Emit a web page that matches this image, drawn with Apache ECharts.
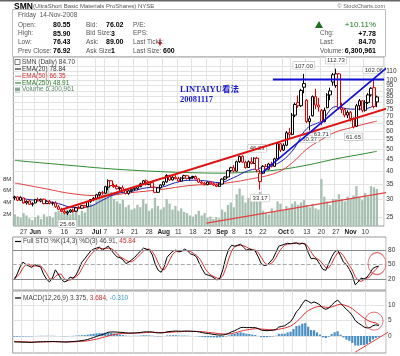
<!DOCTYPE html>
<html><head><meta charset="utf-8">
<script src="https://cdn.jsdelivr.net/npm/echarts@6/dist/echarts.min.js"></script>
<style>html,body{margin:0;padding:0;background:#fff}#c{width:400px;height:356px}</style>
</head><body><div id="c"></div>
<script>
// ---------- DATA ----------
const dates = ['05-21','05-22','05-23','05-27','05-28','05-29','05-30',
'06-02','06-03','06-04','06-05','06-06','06-09','06-10','06-11','06-12','06-13',
'06-16','06-17','06-18','06-19','06-20','06-23','06-24','06-25','06-26','06-27',
'06-30','07-01','07-02','07-03','07-07','07-08','07-09','07-10','07-11',
'07-14','07-15','07-16','07-17','07-18','07-21','07-22','07-23','07-24','07-25',
'07-28','07-29','07-30','07-31','08-01','08-04','08-05','08-06','08-07','08-08',
'08-11','08-12','08-13','08-14','08-15','08-18','08-19','08-20','08-21','08-22',
'08-25','08-26','08-27','08-28','08-29','09-02','09-03','09-04','09-05',
'09-08','09-09','09-10','09-11','09-12','09-15','09-16','09-17','09-18','09-19',
'09-22','09-23','09-24','09-25','09-26','09-29','09-30','10-01','10-02','10-03',
'10-06','10-07','10-08','10-09','10-10','10-13','10-14','10-15','10-16','10-17',
'10-20','10-21','10-22','10-23','10-24','10-27','10-28','10-29','10-30','10-31',
'11-03','11-04','11-05','11-06','11-07','11-10','11-11','11-12','11-13','11-14',
'11-17','11-18'];
const tickDates = ['05-27','06-02','06-09','06-16','06-23','07-01','07-07','07-14','07-21','07-28','08-04','08-11','08-18','08-25','09-02','09-08','09-15','09-22','10-01','10-06','10-13','10-20','10-27','11-03','11-10'];
const tickTexts = ['27','Jun','9','16','23','Jul','7','14','21','28','Aug','11','18','25','Sep','8','15','22','Oct','6','13','20','27','Nov','10'];

const opens = [30.5,30.8,29.8,30.5,29.0,29.6,28.6, 29.0,30.0,29.6,30.1,28.8, 29.5,28.9,29.0,27.9,27.2, 26.6,26.2,26.5,27.0,26.7, 27.6,27.5,28.2,27.9,29.4, 30.0,30.4,31.5,32.2, 32.0,34.0,36.3,34.6,34.2, 33.5,33.8,32.9,31.9,32.8, 33.3,33.6,34.2,35.2,36.3, 35.0,35.6,34.0,32.3,33.8, 34.8,35.9,38.3,36.6,37.6, 37.1,36.2,37.3,38.2,37.2, 37.5,37.9,37.0,35.8,35.4, 34.9,35.8,35.2,34.8,34.3, 35.1,36.9,37.7,40.2, 41.4,40.0,44.0,46.5,43.8, 41.5,44.0,43.2,45.6,36.0, 39.2,42.0,40.8,43.0,42.0, 45.3,52.8,49.5,52.0,59.0, 58.0,70.5,80.0,77.5,97.0, 82.0,66.0,70.0,85.0,78.0, 74.0,66.0,76.0,86.5,106.0, 95.0,107.0,76.0,74.5,70.5, 72.5,68.0,63.0,77.5,81.5, 74.0,80.0,86.5,93.0,80.55];
const highs = [31.2,31.0,31.0,30.6,29.8,30.0,29.2, 30.2,30.6,30.3,30.3,29.8, 29.9,29.4,29.5,28.4,27.6, 27.2,26.8,27.3,27.4,27.8, 28.2,28.4,28.5,29.6,30.2, 30.8,31.8,32.5,32.8, 34.5,36.8,36.5,35.3,35.0, 34.2,34.6,33.5,33.2,33.6, 34.0,34.5,35.6,36.6,36.8, 36.0,35.8,34.2,34.0,35.0, 36.2,38.8,38.6,38.0,38.4, 37.8,37.6,38.6,38.5,37.8, 38.2,38.3,37.3,36.3,35.9, 36.0,36.2,35.7,35.2,35.4, 37.2,38.0,40.6,41.8, 42.5,44.5,46.8,47.0,44.5, 44.6,46.0,46.0,46.23,40.5, 42.5,43.0,43.5,44.0,45.8, 53.5,53.0,53.0,60.0,62.0, 72.0,80.0,86.0,92.0,107.0, 83.0,70.0,86.0,92.0,84.0, 75.0,76.0,88.0,93.0,108.0, 112.73,108.0,80.0,75.5,74.0, 73.5,69.0,79.0,83.0,82.0, 82.0,88.0,93.5,102.06,85.90];
const lows = [29.8,29.5,29.6,28.8,28.5,28.4,28.0, 28.9,29.4,29.2,28.6,28.7, 28.6,28.3,27.6,27.0,26.4, 25.9,25.66,26.2,26.3,26.5, 27.2,27.3,27.5,27.8,29.0, 29.5,30.0,31.0,31.5, 31.8,33.0,34.3,33.8,33.2, 32.8,32.5,31.6,31.5,32.2, 32.8,33.0,34.0,35.0,34.6, 34.7,33.8,32.0,32.1,33.5, 34.5,35.5,36.2,36.4,36.8, 35.8,36.0,37.0,36.8,36.4, 37.0,36.8,35.5,35.0,34.6, 34.7,35.0,34.5,34.0,34.1, 35.0,36.5,37.5,39.5, 39.5,39.8,43.5,43.5,41.0, 41.3,42.8,43.0,39.5,33.17, 38.8,40.0,40.5,41.5,41.8, 45.0,48.5,49.0,51.5,56.0, 57.5,69.0,76.0,76.5,88.0, 65.0,60.37,69.5,75.0,73.0, 63.71,65.5,75.5,82.0,95.0, 93.0,74.5,72.0,69.0,68.5, 66.0,61.65,62.5,74.0,72.5, 73.0,79.0,85.0,75.5,76.43];
const closes = [30.8,29.8,30.7,29.0,29.5,28.6,28.8, 30.0,29.6,30.1,28.8,29.5, 28.9,29.0,27.9,27.2,26.6, 26.2,26.5,27.0,26.6,27.6, 27.5,28.2,27.8,29.4,30.0, 30.4,31.5,32.2,32.0, 34.2,36.3,34.6,34.2,33.5, 33.8,32.9,31.9,32.8,33.3, 33.6,34.2,35.2,36.3,35.0, 35.6,34.0,32.3,33.8,34.8, 35.9,38.3,36.6,37.6,37.1, 36.2,37.3,38.2,37.2,37.5, 37.9,37.0,35.8,35.4,34.9, 35.8,35.2,34.8,34.3,35.1, 36.9,37.7,40.2,41.4, 40.0,44.0,46.4,43.8,41.5, 44.0,43.2,45.6,40.5,39.2, 42.0,40.8,43.0,42.0,45.3, 52.8,49.5,52.0,59.0,58.0, 70.5,78.5,77.5,90.5,93.5, 66.0,68.0,85.0,78.0,76.5, 66.0,74.0,86.5,90.0,98.5, 107.0,76.0,74.5,70.5,72.5, 68.0,62.5,77.5,81.5,74.0, 80.0,86.5,92.5,76.92,84.70];
const volumes = [2.0,1.6,1.4,2.2,1.8,1.3,1.0, 1.5,1.8,1.2,2.0,1.6, 1.7,1.4,2.4,2.6,2.2, 2.5,2.8,2.0,2.3,2.6, 1.9,2.6,2.3,3.4,3.8, 3.6,4.4,5.2,4.8, 5.6,6.8,5.8,4.6,4.2, 3.8,4.5,3.2,3.6,2.8, 3.0,3.6,3.2,4.6,3.8, 2.6,3.0,4.8,3.4,2.8, 3.2,4.6,3.8,2.8,3.4, 2.6,3.0,2.4,2.2,1.8, 1.6,2.0,2.6,1.8,2.2, 1.4,1.6,1.2,1.5,1.3, 2.8,2.4,3.6,4.0, 3.2,5.4,6.4,5.2,4.0, 4.8,4.2,4.6,5.0,5.8, 2.6,2.2,2.0,3.0,2.4, 4.2,3.8,2.6,3.4,3.0, 3.8,4.2,3.6,4.0,4.4, 3.6,3.2,3.8,3.0,2.8, 8.0,5.0,4.2,3.6,4.6, 4.6,5.4,4.6,4.2,5.0, 4.6,5.2,6.8,5.0,4.4, 5.6,5.0,6.8,6.6,6.30];

const ema20Pts = [[0,30.8],[5,30.0],[10,29.6],[15,28.8],[20,27.7],[25,27.9],[30,29.8],[35,31.9],[40,32.6],[45,33.8],[50,34.0],[55,35.6],[60,36.5],[65,36.3],[70,35.6],[75,37.5],[80,40.2],[85,41.5],[90,43.2],[95,49.0],[100,61.5],[105,66.5],[110,76.8],[115,74.9],[120,75.2],[124,78.84]];
const ema50Pts = [[0,35.5],[10,33.6],[20,31.8],[30,31.2],[40,32.2],[50,33.2],[60,34.6],[70,35.2],[80,36.8],[90,39.5],[95,43.5],[100,50.0],[105,55.0],[110,59.5],[115,62.0],[120,64.5],[124,66.35]];
const ema250Pts = [[0,44.6],[10,43.4],[20,42.3],[30,41.2],[40,40.4],[50,39.8],[60,39.4],[70,39.2],[80,39.6],[90,40.5],[100,42.5],[110,45.3],[120,47.8],[124,48.91]];

const stochK = [18,30,45,55,50,47,44,50,47,45,30,20,14,22,39,30,20,14,16,24,22,28,40,55,62,70,78,82,84,86,80,84,88,80,72,66,64,60,52,55,60,65,72,78,84,82,80,70,50,38,34,45,65,72,78,80,76,78,82,78,72,70,66,52,40,30,28,26,22,18,22,40,65,82,90,88,90,92,86,80,82,80,78,66,52,48,49,55,62,75,88,90,92,94,93,94,95,92,94,92,75,62,63,60,50,40,38,52,66,76,80,68,55,50,40,28,8,14,22,20,24,32,42,45,46.91];
const stochD = [22,25,32,43,50,51,47,47,47,47,41,32,21,19,25,30,30,21,17,18,21,25,30,41,52,62,70,77,81,84,83,83,84,83,79,73,66,63,59,56,56,60,66,72,78,81,82,77,67,53,41,39,48,61,72,77,78,78,79,79,77,73,69,63,53,41,33,28,25,22,21,27,42,62,79,87,89,90,89,86,83,81,80,75,65,55,50,51,55,64,75,84,90,92,93,94,94,94,94,93,87,76,67,62,58,51,43,43,52,65,74,75,68,58,48,39,25,17,15,19,22,25,33,40,45.84];

const macdLine = [-1.9,-1.95,-1.95,-2.0,-2.0,-2.05,-2.05,-1.95,-1.9,-1.85,-1.85,-1.8,-1.8,-1.75,-1.8,-1.85,-1.9,-1.95,-1.95,-1.85,-1.8,-1.7,-1.6,-1.45,-1.35,-1.1,-0.8,-0.5,-0.15,0.2,0.45,0.8,1.2,1.3,1.3,1.25,1.2,1.15,1.0,0.95,0.95,1.0,1.05,1.15,1.3,1.35,1.35,1.3,1.1,1.0,1.0,1.1,1.35,1.45,1.55,1.6,1.55,1.55,1.6,1.6,1.55,1.5,1.45,1.3,1.1,0.9,0.8,0.65,0.5,0.35,0.3,0.35,0.5,0.9,1.4,1.7,2.2,2.7,2.8,2.7,2.75,2.7,2.7,2.4,1.9,1.8,1.7,1.8,1.85,2.1,2.9,3.1,3.3,4.0,4.6,6.0,7.8,8.8,10.4,11.6,11.2,10.6,11.0,10.6,10.0,9.0,8.6,9.0,10.0,10.9,11.6,10.6,9.6,8.6,7.8,6.6,5.0,4.2,3.6,2.9,2.6,2.7,3.3,3.6,3.375];
const macdSignal = [-1.7,-1.75,-1.8,-1.85,-1.88,-1.92,-1.95,-1.95,-1.94,-1.93,-1.91,-1.89,-1.87,-1.85,-1.84,-1.84,-1.85,-1.87,-1.88,-1.88,-1.86,-1.83,-1.79,-1.72,-1.65,-1.54,-1.39,-1.21,-1.0,-0.76,-0.52,-0.26,0.03,0.28,0.48,0.63,0.75,0.83,0.87,0.89,0.9,0.92,0.95,0.99,1.05,1.11,1.16,1.19,1.17,1.14,1.11,1.11,1.16,1.22,1.29,1.35,1.39,1.42,1.46,1.49,1.5,1.5,1.49,1.45,1.38,1.28,1.18,1.07,0.96,0.84,0.73,0.66,0.63,0.68,0.82,0.99,1.23,1.52,1.78,1.96,2.12,2.24,2.33,2.35,2.26,2.17,2.08,2.02,1.99,2.01,2.19,2.37,2.56,2.85,3.2,3.76,4.57,5.41,6.41,7.45,8.2,8.68,9.14,9.43,9.54,9.43,9.27,9.22,9.37,9.68,10.07,10.18,10.06,9.77,9.37,8.82,8.06,7.29,6.55,5.82,5.18,4.69,4.41,4.25,3.684];
const macdHist = [-0.2,-0.2,-0.15,-0.15,-0.12,-0.13,-0.1,0,0.04,0.08,0.06,0.09,0.07,0.1,0.04,-0.01,-0.05,-0.08,-0.07,0.03,0.06,0.13,0.19,0.27,0.3,0.44,0.59,0.71,0.85,0.96,0.97,1.06,1.17,1.02,0.82,0.62,0.45,0.32,0.13,0.06,0.05,0.08,0.1,0.16,0.25,0.24,0.19,0.11,-0.07,-0.14,-0.11,-0.01,0.19,0.23,0.26,0.25,0.16,0.13,0.14,0.11,0.05,0,-0.04,-0.15,-0.28,-0.38,-0.38,-0.42,-0.46,-0.49,-0.43,-0.31,-0.13,0.22,0.58,0.71,0.97,1.18,1.02,0.74,0.63,0.46,0.37,0.05,-0.36,-0.37,-0.38,-0.22,-0.14,0.09,0.71,0.73,0.74,1.15,1.4,2.24,3.23,3.39,3.99,4.15,3.0,1.92,1.86,1.17,0.46,-0.43,-0.67,-0.22,0.63,1.22,1.53,0.42,-0.46,-1.17,-1.57,-2.22,-3.06,-3.09,-2.95,-2.92,-2.58,-1.99,-1.11,-0.65,-0.31];

const priceTicks = [25,30,35,40,45,50,55,60,65,70,75,80,85,90,95,100,105,110,115];
const priceLabels = [25,30,35,40,45,50,55,60,65,70,75,80,85,90,95,100,110,115];
const volLabels = [2,4,6,8];
const stochLabels = [20,50,80];
const macdLabels = [0,5,10];

// high/low price flags [dayIndex, kind]
const flags = [[18,'lo'],[83,'hi'],[84,'lo'],[99,'hi'],[101,'lo'],[105,'lo'],[110,'hi'],[116,'lo'],[123,'hi']];

// hand-drawn annotations: [[day, value],[day, value]]
const blueHLine = [[88.4,101],[126.5,101]];
const blueTrend = [[84.6,39.3],[128.5,117]];
const redTrend = [[15.6,27.0],[131.2,78.1]];
const volTrend = [[65.6,0.5],[128.5,5.8]];
const macdTrend = [[116,-5.2],[127.8,1.6]];
const stochCircle = [[123.4,52]];
const macdCircle = [[122.4,4.8]];

// ---------- CHART ----------
const LN = Math.log;
const pMin = 22.97, pMax = 126.9;
const FONT = 'Liberation Sans, Arial, sans-serif';
const tickSet = new Set(tickDates);
const tickMap = {}; tickDates.forEach((d,i)=>tickMap[d]=tickTexts[i]);
const isTick = (i,v)=>tickSet.has(v);
const gridL = 12.7, gridR = 13.9;
const grids = [
  {left:gridL,right:gridR,top:57,height:169},
  {left:gridL,right:gridR,top:237,height:53},
  {left:gridL,right:gridR,top:291,height:62}
].map(g=>Object.assign(g,{show:true,borderColor:'#9a9a9a',borderWidth:1,backgroundColor:'#fff'}));

const gridLine = {show:true,lineStyle:{color:'#e3e3e3',width:1}};
function catAxis(gi, labels){
  return {type:'category',gridIndex:gi,data:dates,boundaryGap:true,
    axisLine:{show:false},axisTick:{show:false},
    splitLine:Object.assign({interval:isTick},gridLine),
    axisLabel:{show:labels,interval:isTick,fontSize:6.5,fontFamily:FONT,color:'#333',margin:3,
      formatter:v=>{const t=tickMap[v]||''; return /^[A-Z]/.test(t)?'{m|'+t+'}':t;},
      rich:{m:{fontWeight:'bold',fontSize:6.5,fontFamily:FONT,color:'#222'}}}};
}
function hidValAxis(gi){return {type:'value',gridIndex:gi,min:-0.5,max:126.5,show:false};}
const lblStyle = {fontSize:6.5,fontFamily:FONT,color:'#333',margin:2};

const candleData = opens.map((o,i)=>{
  const c=closes[i], prev=i?closes[i-1]:o;
  const col = c>=prev?'#000':'#e00000';
  return {value:[LN(o),LN(c),LN(lows[i]),LN(highs[i])],
    itemStyle:{color:'#fff',color0:col,borderColor:col,borderColor0:col,borderWidth:1}};
});
const flagData = flags.map(([k,kind])=>{
  const v = kind==='hi'?highs[k]:lows[k];
  return {coord:[k,LN(v)],value:v.toFixed(2),
    label:{position:kind==='hi'?'top':'bottom',distance:5}};
});

function seg(pts, xi, yi, color, width, tf){
  return {type:'line',xAxisIndex:xi,yAxisIndex:yi,data:pts.map(p=>[p[0],tf?tf(p[1]):p[1]]),
    symbol:'none',clip:false,silent:true,z:5,lineStyle:{color:color,width:width},animation:false};
}

const option = {
  animation:false,
  backgroundColor:'#fff',
  grid:grids,
  xAxis:[catAxis(0,true),catAxis(1,false),catAxis(2,false),hidValAxis(0),hidValAxis(1),hidValAxis(2)],
  yAxis:[
    {type:'value',gridIndex:0,position:'right',min:LN(pMin),max:LN(pMax),
      axisLine:{show:false},
      axisTick:{show:false,customValues:priceTicks.map(LN)},
      splitLine:gridLine,
      axisLabel:Object.assign({customValues:priceLabels.map(LN),formatter:v=>String(Math.round(Math.exp(v)))},lblStyle)},
    {type:'value',gridIndex:0,position:'left',min:0,max:28.8,
      axisLine:{show:false},axisTick:{show:false,customValues:volLabels},splitLine:{show:false},
      axisLabel:Object.assign({customValues:volLabels,formatter:v=>v+'M'},lblStyle,{fontSize:6})},
    {type:'value',gridIndex:1,position:'right',min:-2.7,max:107,
      axisLine:{show:false},axisTick:{show:false,customValues:stochLabels},splitLine:{show:false},
      axisLabel:Object.assign({customValues:stochLabels},lblStyle)},
    {type:'value',gridIndex:2,position:'right',min:-5.48,max:14.52,
      axisLine:{show:false},axisTick:{show:false,customValues:macdLabels},splitLine:gridLine,
      axisLabel:Object.assign({customValues:macdLabels},lblStyle)}
  ],
  series:[
    {type:'bar',xAxisIndex:0,yAxisIndex:1,data:volumes,barWidth:2.3,itemStyle:{color:'#a7c0b2'},silent:true,z:1},
    {type:'candlestick',xAxisIndex:0,yAxisIndex:0,data:candleData,barWidth:2.8,z:3,
      markPoint:{symbol:'circle',symbolSize:0,silent:true,data:flagData,
        label:{show:true,formatter:p=>p.value,fontSize:6,fontFamily:FONT,color:'#333',
          backgroundColor:'#fff',borderColor:'#aaa',borderWidth:0.5,padding:[1,1.5,0,1.5]}}},
    {type:'line',xAxisIndex:3,yAxisIndex:0,data:ema250Pts.map(p=>[p[0],LN(p[1])]),smooth:0.4,symbol:'none',lineStyle:{color:'#2e8b2e',width:1},z:2},
    {type:'line',xAxisIndex:3,yAxisIndex:0,data:ema50Pts.map(p=>[p[0],LN(p[1])]),smooth:0.4,symbol:'none',lineStyle:{color:'#e04040',width:1},z:2},
    {type:'line',xAxisIndex:3,yAxisIndex:0,data:ema20Pts.map(p=>[p[0],LN(p[1])]),smooth:0.4,symbol:'none',lineStyle:{color:'#2020b0',width:1},z:2},
    seg(redTrend,3,0,'#e01010',2,LN),
    seg(blueTrend,3,0,'#1010d0',1.6,LN),
    seg(blueHLine,3,0,'#1010d0',2,LN),
    seg(volTrend,3,1,'#e04040',1.2),
    {type:'line',xAxisIndex:1,yAxisIndex:2,data:stochK,symbol:'none',lineStyle:{color:'#000',width:1},z:3,
      markLine:{silent:true,symbol:'none',label:{show:false},
        data:[{yAxis:80,lineStyle:{color:'#888',width:1,type:'solid'}},
              {yAxis:50,lineStyle:{color:'#aaa',width:1,type:'dashed'}},
              {yAxis:20,lineStyle:{color:'#888',width:1,type:'solid'}}]}},
    {type:'line',xAxisIndex:1,yAxisIndex:2,data:stochD,symbol:'none',lineStyle:{color:'#e03030',width:1},z:2},
    {type:'scatter',xAxisIndex:4,yAxisIndex:2,data:stochCircle,symbol:'circle',symbolSize:[18,22],silent:true,
      itemStyle:{color:'rgba(0,0,0,0)',borderColor:'#e05050',borderWidth:1},z:6},
    {type:'bar',xAxisIndex:2,yAxisIndex:3,data:macdHist,barWidth:2.2,itemStyle:{color:'#4a8fc4'},z:1},
    {type:'line',xAxisIndex:2,yAxisIndex:3,data:macdLine,symbol:'none',lineStyle:{color:'#000',width:1},z:3},
    {type:'line',xAxisIndex:2,yAxisIndex:3,data:macdSignal,symbol:'none',lineStyle:{color:'#e03030',width:1},z:2},
    {type:'scatter',xAxisIndex:5,yAxisIndex:3,data:macdCircle,symbol:'circle',symbolSize:[18,18],silent:true,
      itemStyle:{color:'rgba(0,0,0,0)',borderColor:'#e05050',borderWidth:1},z:6},
    seg(macdTrend,5,3,'#e04040',1)
  ],
  graphic:[]
};

// ---- header & legends (text) ----
const T = (x,y,text,o)=>Object.assign({type:'text',x:x,y:y,silent:true,z:10,
  style:Object.assign({text:text,fontSize:6.5,fontFamily:FONT,fill:'#555',verticalAlign:'middle'},o||{})});
const B = (x,y,text,o)=>T(x,y,text,Object.assign({fill:'#000',fontWeight:'bold',fontSize:7},o||{}));
const g = [];
g.push({type:'rect',shape:{x:0,y:0,width:400,height:1.5},style:{fill:'#666'},silent:true});
g.push(B(14,6.5,'SMN',{fontSize:8.5}));
g.push(T(33,6.8,'(UltraShort Basic Materials ProShares) NYSE',{fontSize:6}));
g.push(T(385,6,'© StockCharts.com',{fontSize:5.5,textAlign:'right',fill:'#666'}));
g.push({type:'rect',shape:{x:12.5,y:9.5,width:373,height:47},style:{fill:'none',stroke:'#c0c0c0',lineWidth:1},silent:true});
g.push(T(18,15.5,'Friday  14-Nov-2008'));
const rowsY=[25,33.7,42.5,51.3];
['Open:','High:','Low:','Prev Close:'].forEach((t,i)=>g.push(T(18,rowsY[i],t)));
['80.55','85.90','76.43','76.92'].forEach((t,i)=>g.push(B(53,rowsY[i],t)));
['Bid:','Bid Size:','Ask:','Ask Size:'].forEach((t,i)=>g.push(T(86,rowsY[i],t)));
g.push(B(106,rowsY[0],'76.02'));g.push(B(111,rowsY[1],'3'));g.push(B(106,rowsY[2],'89.00'));g.push(B(111,rowsY[3],'1'));
['P/E:','EPS:','Last Ticks:','Last Size:'].forEach((t,i)=>g.push(T(133,rowsY[i],t)));
g.push(B(163,rowsY[3],'600'));
g.push({type:'polygon',shape:{points:[[158,42],[162,42],[160,46]]},style:{fill:'#d00'},silent:true});
g.push({type:'rect',shape:{x:159.5,y:38.5,width:1,height:4},style:{fill:'#d00'},silent:true});
g.push({type:'polygon',shape:{points:[[315,28],[323,28],[319,21]]},style:{fill:'#1f6f1f'},silent:true});
g.push(T(376,25,'+10.11%',{fontSize:8,fill:'#1f7a1f',textAlign:'right'}));
g.push(T(320,rowsY[1],'Chg:'));g.push(B(376,rowsY[1],'+7.78',{textAlign:'right'}));
g.push(T(320,rowsY[2],'Last:'));g.push(B(376,rowsY[2],'84.70',{textAlign:'right'}));
g.push(T(320,rowsY[3],'Volume:'));g.push(B(376,rowsY[3],'6,300,961',{textAlign:'right'}));

// main legend
const legY=[62,69,76,83,89.7];
g.push({type:'rect',shape:{x:15,y:59.5,width:5,height:5},style:{fill:'none',stroke:'#555',lineWidth:0.8},silent:true});
g.push(T(22,legY[0],'SMN (Daily) 84.70',{fill:'#444'}));
[['#222','EMA(20) 78.84','#333'],['#e04040','EMA(50) 66.35','#d03030'],['#2e8b2e','EMA(250) 48.91','#2e7d2e']].forEach((a,i)=>{
  g.push({type:'line',shape:{x1:15,y1:legY[i+1],x2:21,y2:legY[i+1]},style:{stroke:a[0],lineWidth:1.2},silent:true});
  g.push(T(22,legY[i+1],a[1],{fill:a[2]}));
});
g.push({type:'rect',shape:{x:15,y:87.5,width:5,height:5},style:{fill:'#8aa898'},silent:true});
g.push(T(22,legY[4],'Volume 6,300,961',{fill:'#5a8a6a'}));

// stoch legend
g.push({type:'line',shape:{x1:15,y1:241.5,x2:21,y2:241.5},style:{stroke:'#000',lineWidth:1.2},silent:true});
g.push(T(23,241.5,'{a|Full STO %K(14,3) %D(3) 46.91,} {b|45.84}',{rich:{a:{fill:'#444',fontSize:6.5,fontFamily:FONT},b:{fill:'#d03030',fontSize:6.5,fontFamily:FONT}}}));
// macd legend
g.push({type:'line',shape:{x1:15,y1:298,x2:21,y2:298},style:{stroke:'#000',lineWidth:1.2},silent:true});
g.push(T(23,298,'{a|MACD(12,26,9) 3.375,} {b|3.684}{a|,} {c|-0.310}',{rich:{a:{fill:'#444',fontSize:6.5,fontFamily:FONT},b:{fill:'#d03030',fontSize:6.5,fontFamily:FONT},c:{fill:'#3a9ac8',fontSize:6.5,fontFamily:FONT}}}));

// user note
const NF='Liberation Serif, Noto Sans CJK SC, serif';
g.push(T(180,90,'LINTAIYU看法',{fontSize:8.5,fontWeight:'bold',fill:'#1a1acc',fontFamily:NF}));
g.push(T(180,99.5,'20081117',{fontSize:8.5,fontWeight:'bold',fill:'#1a1acc',fontFamily:NF}));

option.graphic = g;
const chart = echarts.init(document.getElementById('c'),null,{renderer:'canvas',width:400,height:356});
chart.setOption(option);
</script></body></html>
